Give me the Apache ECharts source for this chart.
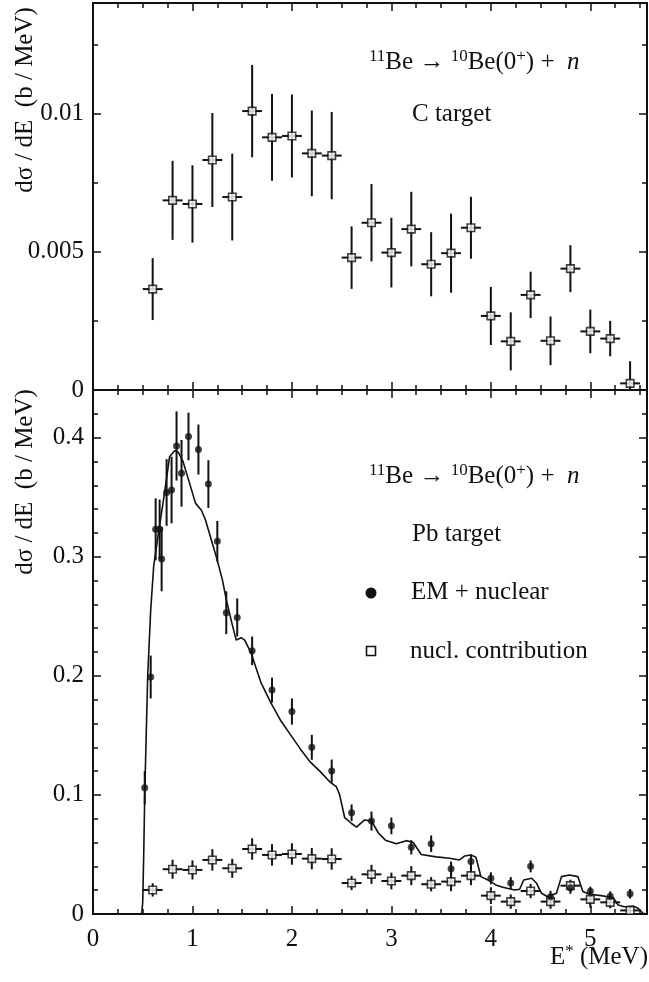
<!DOCTYPE html>
<html>
<head>
<meta charset="utf-8">
<script src="https://cdn.jsdelivr.net/npm/echarts@6/dist/echarts.min.js"></script>
<style>
  html, body { margin: 0; padding: 0; background: #fff; }
  #chart { width: 649px; height: 982px; }
</style>
</head>
<body>
<div id="chart"></div>
<script>
// ---- C target: nuclear breakup cross section (open squares, 0.2 MeV bins) ----
const cEnergy = [0.6, 0.8, 1.0, 1.2, 1.4, 1.6, 1.8, 2.0, 2.2, 2.4, 2.6, 2.8, 3.0,
                 3.2, 3.4, 3.6, 3.8, 4.0, 4.2, 4.4, 4.6, 4.8, 5.0, 5.2, 5.4];
const cValue  = [0.00365, 0.00686, 0.00673, 0.00832, 0.00698, 0.01009, 0.00914, 0.00919,
                 0.00856, 0.00848, 0.00479, 0.00605, 0.00497, 0.00582, 0.00455, 0.00495,
                 0.00587, 0.00268, 0.00176, 0.00344, 0.00178, 0.00439, 0.00212, 0.00186, 0.00024];
const cError  = [0.00112, 0.00143, 0.0014, 0.0017, 0.00157, 0.00167, 0.00157, 0.0015,
                 0.00155, 0.00158, 0.00113, 0.0014, 0.00126, 0.00135, 0.00116, 0.00143,
                 0.00112, 0.00105, 0.00105, 0.00084, 0.00088, 0.00085, 0.00079, 0.00064, 0.0008];

// ---- Pb target: EM + nuclear (filled circles) ----
const pbEnergy = [0.52, 0.58, 0.63, 0.67, 0.69, 0.74, 0.79, 0.84, 0.89, 0.96, 1.06, 1.16,
                  1.25, 1.34, 1.45, 1.6, 1.8, 2.0, 2.2, 2.4, 2.6, 2.8, 3.0, 3.2, 3.4,
                  3.6, 3.8, 4.0, 4.2, 4.4, 4.6, 4.8, 5.0, 5.2, 5.4];
const pbValue  = [0.106, 0.199, 0.323, 0.323, 0.298, 0.354, 0.356, 0.393, 0.370, 0.401,
                  0.390, 0.361, 0.313, 0.253, 0.249, 0.221, 0.188, 0.170, 0.140, 0.120,
                  0.085, 0.078, 0.074, 0.056, 0.059, 0.038, 0.044, 0.030, 0.026, 0.040,
                  0.0145, 0.022, 0.019, 0.015, 0.017];
const pbError  = [0.014, 0.018, 0.026, 0.025, 0.027, 0.028, 0.028, 0.029, 0.028, 0.020,
                  0.021, 0.020, 0.017, 0.018, 0.016, 0.012, 0.0105, 0.011, 0.0105, 0.0097,
                  0.007, 0.008, 0.007, 0.006, 0.007, 0.006, 0.006, 0.005, 0.005, 0.005,
                  0.005, 0.005, 0.004, 0.004, 0.004];

// ---- Pb target: nuclear contribution (open squares) ----
const nuclEnergy = [0.6, 0.8, 1.0, 1.2, 1.4, 1.6, 1.8, 2.0, 2.2, 2.4, 2.6, 2.8, 3.0,
                    3.2, 3.4, 3.6, 3.8, 4.0, 4.2, 4.4, 4.6, 4.8, 5.0, 5.2, 5.4];
const nuclValue  = [0.0202, 0.0376, 0.037, 0.0454, 0.0384, 0.0546, 0.0496, 0.0504, 0.0465,
                    0.0462, 0.026, 0.0333, 0.0277, 0.0322, 0.025, 0.0272, 0.0322, 0.0154,
                    0.0104, 0.0193, 0.0104, 0.0238, 0.0123, 0.0098, 0.003];
const nuclError  = [0.0056, 0.008, 0.008, 0.009, 0.008, 0.009, 0.009, 0.009, 0.009, 0.009,
                    0.006, 0.008, 0.007, 0.008, 0.006, 0.008, 0.008, 0.007, 0.006, 0.006,
                    0.006, 0.005, 0.007, 0.005, 0.003];

// ---- Pb target: calculated spectrum (solid line) ----
const curveEnergy = [0, 0.49, 0.50, 0.51, 0.52, 0.535, 0.55, 0.58, 0.61, 0.653, 0.72, 0.77,
  0.82, 0.855, 0.905, 0.97, 1.03, 1.09, 1.13, 1.19, 1.246, 1.30, 1.34, 1.40, 1.44, 1.49,
  1.525, 1.59, 1.69, 1.79, 1.89, 1.99, 2.09, 2.18, 2.28, 2.38, 2.446, 2.48, 2.53, 2.60,
  2.65, 2.73, 2.80, 2.87, 2.94, 3.05, 3.15, 3.22, 3.30, 3.45, 3.585, 3.685, 3.735, 3.80,
  3.85, 3.90, 3.97, 4.05, 4.12, 4.24, 4.29, 4.33, 4.41, 4.46, 4.51, 4.57, 4.66, 4.71,
  4.79, 4.875, 4.925, 4.99, 5.11, 5.23, 5.28, 5.34, 5.43, 5.48, 5.53, 5.57];
const curveValue = [0, 0, 0.01, 0.05, 0.10, 0.15, 0.20, 0.255, 0.292, 0.317, 0.354, 0.384,
  0.389, 0.388, 0.380, 0.362, 0.345, 0.339, 0.331, 0.314, 0.298, 0.281, 0.264, 0.243,
  0.230, 0.232, 0.230, 0.219, 0.194, 0.177, 0.162, 0.150, 0.138, 0.128, 0.120, 0.111,
  0.107, 0.100, 0.081, 0.076, 0.073, 0.079, 0.078, 0.068, 0.062, 0.059, 0.0616, 0.060,
  0.050, 0.048, 0.0468, 0.0454, 0.0487, 0.0496, 0.0476, 0.0314, 0.0286, 0.0244, 0.0224,
  0.0202, 0.0208, 0.0286, 0.030, 0.0258, 0.0174, 0.0145, 0.0174, 0.0314, 0.0328, 0.0314,
  0.0188, 0.0166, 0.0154, 0.0137, 0.0076, 0.0061, 0.0067, 0.0048, 0.0006, 0];

// ---- axis ranges and ticks ----
const xMax = 5.57;
const xMajor = 1, xMinor = 0.25;
const topMax = 0.014, topMajor = 0.005, topMinor = 0.0025;
const botMax = 0.44, botMajor = 0.1, botMinor = 0.02;
const binHalfWidth = 0.1;

const SERIF = '"Liberation Serif", "Times New Roman", serif';
const INK = '#111';
const FONT = 25;

function zip3(a, b, c) { return a.map((v, i) => [v, b[i], c[i]]); }
function zip2(a, b) { return a.map((v, i) => [v, b[i]]); }

function xAxisDef(grid, position, interval, len, labels) {
  return {
    type: 'value', gridIndex: grid, position: position, min: 0, max: xMax, interval: interval,
    axisLine: { show: true, onZero: false, lineStyle: { color: INK, width: 2 } },
    axisTick: { show: true, inside: true, length: len, lineStyle: { color: INK, width: 1.5 } },
    axisLabel: {
      show: labels, showMaxLabel: false, margin: 13, color: INK,
      fontFamily: SERIF, fontSize: FONT,
      formatter: v => String(Math.round(v))
    },
    splitLine: { show: false }
  };
}

function yAxisDef(grid, position, max, interval, len, labels) {
  return {
    type: 'value', gridIndex: grid, position: position, min: 0, max: max, interval: interval,
    axisLine: { show: true, onZero: false, lineStyle: { color: INK, width: 2 } },
    axisTick: { show: true, inside: true, length: len, lineStyle: { color: INK, width: 1.5 } },
    axisLabel: {
      show: labels, showMaxLabel: false, margin: 9, color: INK,
      fontFamily: SERIF, fontSize: FONT,
      formatter: v => (v === 0 ? '0' : String(Number(v.toFixed(4))))
    },
    splitLine: { show: false }
  };
}

// vertical error bar, optionally with the horizontal bin-width bar
function errorBars(withBin) {
  return function (params, api) {
    const x = api.value(0), y = api.value(1), e = api.value(2);
    const hi = api.coord([x, y + e]);
    const lo = api.coord([x, Math.max(y - e, 0)]);
    const style = { stroke: INK, lineWidth: 2 };
    const children = [{ type: 'line', shape: { x1: hi[0], y1: hi[1], x2: lo[0], y2: lo[1] }, style: style }];
    if (withBin) {
      const l = api.coord([x - binHalfWidth, y]);
      const r = api.coord([x + binHalfWidth, y]);
      children.push({ type: 'line', shape: { x1: l[0], y1: l[1], x2: r[0], y2: r[1] }, style: style });
    }
    return { type: 'group', children: children };
  };
}

const openSquare = { color: '#fff', borderColor: INK, borderWidth: 1.6 };

const chart = echarts.init(document.getElementById('chart'), null, { renderer: 'canvas' });

const option = {
  animation: false,
  backgroundColor: '#fff',
  grid: [
    { left: 93, right: 2, top: 3, height: 387 },
    { left: 93, right: 2, top: 390, height: 524 }
  ],
  xAxis: [
    xAxisDef(0, 'bottom', xMajor, 8, false),
    xAxisDef(0, 'bottom', xMinor, 5, false),
    xAxisDef(0, 'top', xMajor, 8, false),
    xAxisDef(0, 'top', xMinor, 5, false),
    xAxisDef(1, 'bottom', xMajor, 8, true),
    xAxisDef(1, 'bottom', xMinor, 5, false),
    xAxisDef(1, 'top', xMajor, 8, false),
    xAxisDef(1, 'top', xMinor, 5, false)
  ],
  yAxis: [
    yAxisDef(0, 'left', topMax, topMajor, 8, true),
    yAxisDef(0, 'left', topMax, topMinor, 5, false),
    yAxisDef(0, 'right', topMax, topMajor, 8, false),
    yAxisDef(0, 'right', topMax, topMinor, 5, false),
    yAxisDef(1, 'left', botMax, botMajor, 8, true),
    yAxisDef(1, 'left', botMax, botMinor, 5, false),
    yAxisDef(1, 'right', botMax, botMajor, 8, false),
    yAxisDef(1, 'right', botMax, botMinor, 5, false)
  ],
  series: [
    {
      name: 'C target errors', type: 'custom', xAxisIndex: 0, yAxisIndex: 0,
      renderItem: errorBars(true), data: zip3(cEnergy, cValue, cError), z: 2
    },
    {
      name: 'C target', type: 'scatter', xAxisIndex: 0, yAxisIndex: 0,
      symbol: 'rect', symbolSize: 7.5, itemStyle: openSquare,
      data: zip2(cEnergy, cValue), z: 3
    },
    {
      name: 'calculation', type: 'line', xAxisIndex: 4, yAxisIndex: 4,
      showSymbol: false, symbol: 'none', lineStyle: { color: INK, width: 1.6 },
      data: zip2(curveEnergy, curveValue), z: 1
    },
    {
      name: 'nucl. contribution errors', type: 'custom', xAxisIndex: 4, yAxisIndex: 4,
      renderItem: errorBars(true), data: zip3(nuclEnergy, nuclValue, nuclError), z: 2
    },
    {
      name: 'nucl. contribution', type: 'scatter', xAxisIndex: 4, yAxisIndex: 4,
      symbol: 'rect', symbolSize: 7.5, itemStyle: openSquare,
      data: zip2(nuclEnergy, nuclValue), z: 3
    },
    {
      name: 'EM + nuclear errors', type: 'custom', xAxisIndex: 4, yAxisIndex: 4,
      renderItem: errorBars(false), data: zip3(pbEnergy, pbValue, pbError), z: 2
    },
    {
      name: 'EM + nuclear', type: 'scatter', xAxisIndex: 4, yAxisIndex: 4,
      symbol: 'circle', symbolSize: 7, itemStyle: { color: INK },
      data: zip2(pbEnergy, pbValue), z: 3
    }
  ],
  graphic: (function () {
    const reaction = '{s|11}Be → {s|10}Be(0{s|+}) +  {i|n}';
    const rich = {
      s: { fontSize: 17, fontFamily: SERIF, verticalAlign: 'top', lineHeight: 27 },
      i: { fontSize: FONT, fontFamily: SERIF, fontStyle: 'italic', lineHeight: 27 }
    };
    function txt(x, y, text) {
      return {
        type: 'text', x: x, y: y, silent: true,
        style: {
          text: text, fill: INK, fontFamily: SERIF, fontSize: FONT, lineHeight: 27,
          textAlign: 'left', textVerticalAlign: 'middle', rich: rich
        }
      };
    }
    const yTitle = 'dσ / dE  (b / MeV)';
    return [
      txt(369, 62, reaction),
      txt(412, 114, 'C target'),
      txt(369, 476, reaction),
      txt(412, 534, 'Pb target'),
      txt(411, 592, 'EM + nuclear'),
      txt(410, 651, 'nucl. contribution'),
      { type: 'circle', silent: true, shape: { cx: 371, cy: 593, r: 5.5 }, style: { fill: INK } },
      { type: 'rect', silent: true, shape: { x: 366.5, y: 646.5, width: 9, height: 9 },
        style: { fill: '#fff', stroke: INK, lineWidth: 1.6 } },
      { type: 'text', silent: true, x: 25, y: 100, rotation: Math.PI / 2,
        style: { text: yTitle, fill: INK, fontFamily: SERIF, fontSize: FONT,
                 textAlign: 'center', textVerticalAlign: 'middle' } },
      { type: 'text', silent: true, x: 25, y: 482, rotation: Math.PI / 2,
        style: { text: yTitle, fill: INK, fontFamily: SERIF, fontSize: FONT,
                 textAlign: 'center', textVerticalAlign: 'middle' } },
      { type: 'text', silent: true, x: 648, y: 957,
        style: { text: 'E{s|*} (MeV)', fill: INK, fontFamily: SERIF, fontSize: FONT, lineHeight: 27,
                 textAlign: 'right', textVerticalAlign: 'middle', rich: rich } }
    ];
  })()
};

chart.setOption(option);
</script>
</body>
</html>
